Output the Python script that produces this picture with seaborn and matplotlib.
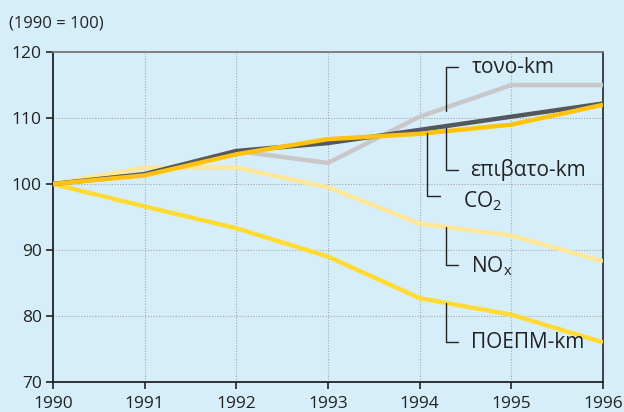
import matplotlib
matplotlib.use("Agg")
import matplotlib.pyplot as plt
import seaborn as sns
import pandas as pd

years = [1990, 1991, 1992, 1993, 1994, 1995, 1996]
tonne_km = [100, 101.5, 105, 103.2, 110.2, 115, 115]
passenger_km = [100, 101.5, 105, 106.2, 108.2, 110.2, 112.2]
co2 = [100, 101.3, 104.5, 106.8, 107.6, 109, 112]
nox = [100, 102.5, 102.5, 99.5, 94, 92.2, 88.3]
poepm_km = [100, 96.6, 93.3, 89, 82.7, 80.2, 76]

series_names = ["τονο-km", "επιβατο-km", "CO2", "NOx", "ΠΟΕΠΜ-km"]
series_values = [tonne_km, passenger_km, co2, nox, poepm_km]
colors = ["#c8c8c8", "#54585c", "#ffc20e", "#ffe79a", "#ffdb33"]

sns.set_theme(style="white")
plt.rcParams['font.family'] = ['Open Sans', 'DejaVu Sans']

bg = "#d6eef9"
fig = plt.figure(figsize=(6.24, 4.12), dpi=100, facecolor=bg)
ax = fig.add_axes([53/624, 30/412, 550/624, 330/412])
ax.set_facecolor(bg)

ax.set_xlim(1990, 1996)
ax.set_ylim(70, 120)
ax.set_xticks(years)
ax.set_yticks([70, 80, 90, 100, 110, 120])
ax.grid(True, linestyle=(0, (1, 1.5)), color="#a8a8a8", linewidth=0.8)
ax.set_axisbelow(True)

order = [4, 3, 0, 1, 2]
for i in order:
    df = pd.DataFrame({"year": years, "value": series_values[i]})
    sns.lineplot(data=df, x="year", y="value", ax=ax, color=colors[i],
                 linewidth=3.2, solid_capstyle="butt", zorder=3 + order.index(i))

ax.set_xlabel("")
ax.set_ylabel("")
ax.tick_params(axis="both", which="both", direction="out", length=5, width=1.2,
               color="#222222", labelsize=12.5, labelcolor="#222222",
               left=True, bottom=True)
ax.tick_params(axis="x", pad=5)
ax.tick_params(axis="y", pad=3)
for s in ["left", "bottom"]:
    ax.spines[s].set_color("#222222")
    ax.spines[s].set_linewidth(1.3)
ax.spines["top"].set_color("#777777")
ax.spines["top"].set_linewidth(1.3)
ax.spines["right"].set_color("#333333")
ax.spines["right"].set_linewidth(1.3)

fig.text(9/624, 1 - 24/412, "(1990 = 100)", fontsize=12, color="#222222",
         va="center", ha="left")

# leader lines and labels (data coordinates)
def leader(x, y0, y1, xend, text, tx, ty):
    ax.plot([x, x, xend], [y0, y1, y1], color="#222222", linewidth=1.0,
            zorder=10, clip_on=False)
    ax.text(tx, ty, text, fontsize=15, color="#222222", va="center",
            ha="left", zorder=11)

def xd(px):
    return 1990 + (px - 53) / (550 / 6)

def yd(py):
    return 70 + (382 - py) / 6.6

leader(xd(446), yd(111), yd(67), xd(458), "τονο-km", xd(472), yd(67))
leader(xd(446), yd(128), yd(170), xd(458), "επιβατο-km", xd(470), yd(170))
leader(xd(427), yd(133), yd(196), xd(440), "CO$_\\mathregular{2}$", xd(463), yd(201))
leader(xd(446), yd(227), yd(265), xd(458), "NO$_\\mathregular{x}$", xd(471), yd(266))
leader(xd(446), yd(303), yd(342), xd(458), "ΠΟΕΠΜ-km", xd(471), yd(342))

fig.savefig("out.png", dpi=100, facecolor=bg)
